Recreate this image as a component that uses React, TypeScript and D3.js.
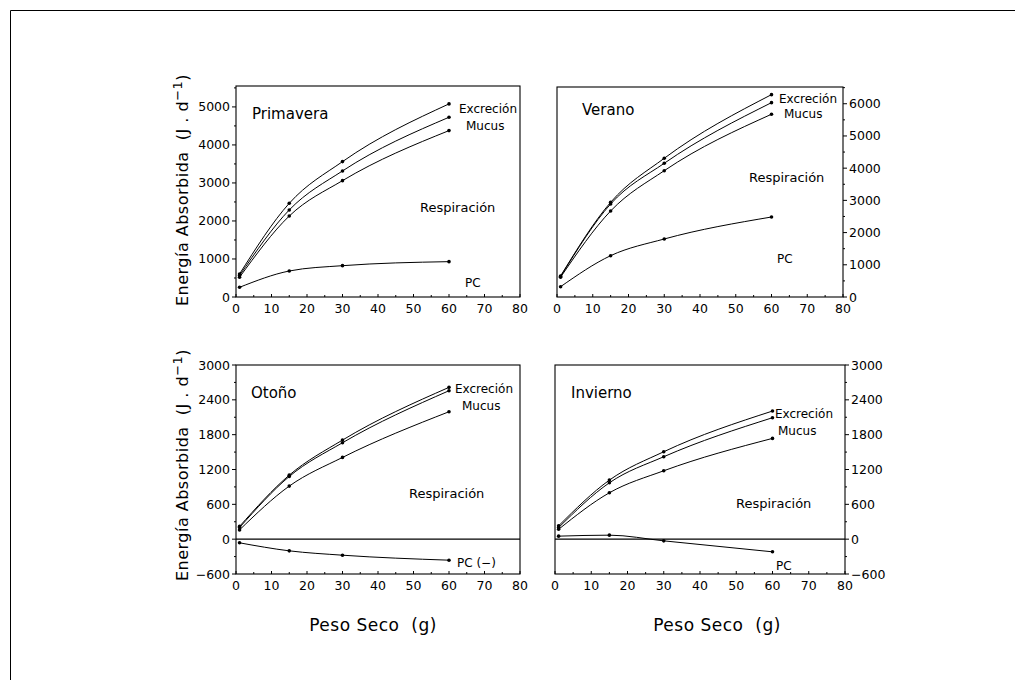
import React from "react";
import * as d3 from "d3";

const weights = [1, 15, 30, 60];
const xTicks = [0, 10, 20, 30, 40, 50, 60, 70, 80];

const primaveraExcrecion = [605, 2465, 3561, 5079];
const primaveraMucus = [565, 2290, 3316, 4728];
const primaveraRespiracion = [520, 2130, 3061, 4377];
const primaveraPC = [255, 684, 824, 930];
const primaveraTicks = [0, 1000, 2000, 3000, 4000, 5000];

const veranoExcrecion = [652, 2940, 4307, 6283];
const veranoMucus = [635, 2888, 4152, 6034];
const veranoRespiracion = [615, 2671, 3922, 5674];
const veranoPC = [320, 1283, 1801, 2484];
const veranoTicks = [0, 1000, 2000, 3000, 4000, 5000, 6000];

const otonoExcrecion = [220, 1103, 1707, 2615];
const otonoMucus = [200, 1080, 1661, 2557];
const otonoRespiracion = [160, 914, 1408, 2195];
const otonoPC = [-63, -201, -276, -362];
const otonoTicks = [-600, 0, 600, 1200, 1800, 2400, 3000];

const inviernoExcrecion = [230, 1017, 1506, 2207];
const inviernoMucus = [200, 971, 1420, 2092];
const inviernoRespiracion = [170, 799, 1178, 1736];
const inviernoPC = [52, 69, -29, -218];
const inviernoTicks = [-600, 0, 600, 1200, 1800, 2400, 3000];

const FONT = "'DejaVu Sans', 'Liberation Sans', sans-serif";

type Lbl = { text: string; x: number; y: number; size?: number };
type Panel = {
  left: number; right: number; top: number; bottom: number;
  yDomain: [number, number]; yTicks: number[]; axisRight: boolean;
  series: number[][]; labels: Lbl[]; zeroLine: boolean;
};

const panels: Panel[] = [
  {
    left: 236, right: 520, top: 86, bottom: 297,
    yDomain: [0, 5550], yTicks: primaveraTicks, axisRight: false,
    series: [primaveraExcrecion, primaveraMucus, primaveraRespiracion, primaveraPC],
    zeroLine: false,
    labels: [
      { text: "Primavera", x: 252, y: 119, size: 15 },
      { text: "Excreción", x: 459, y: 113 },
      { text: "Mucus", x: 466, y: 130 },
      { text: "Respiración", x: 420, y: 212, size: 13 },
      { text: "PC", x: 465, y: 287 },
    ],
  },
  {
    left: 557, right: 843, top: 87, bottom: 297,
    yDomain: [0, 6520], yTicks: veranoTicks, axisRight: true,
    series: [veranoExcrecion, veranoMucus, veranoRespiracion, veranoPC],
    zeroLine: false,
    labels: [
      { text: "Verano", x: 582, y: 115, size: 15 },
      { text: "Excreción", x: 779, y: 103 },
      { text: "Mucus", x: 784, y: 118 },
      { text: "Respiración", x: 749, y: 182, size: 13 },
      { text: "PC", x: 777, y: 263 },
    ],
  },
  {
    left: 236, right: 520, top: 365, bottom: 574,
    yDomain: [-600, 3000], yTicks: otonoTicks, axisRight: false,
    series: [otonoExcrecion, otonoMucus, otonoRespiracion, otonoPC],
    zeroLine: true,
    labels: [
      { text: "Otoño", x: 251, y: 398, size: 15 },
      { text: "Excreción", x: 455, y: 393 },
      { text: "Mucus", x: 462, y: 410 },
      { text: "Respiración", x: 409, y: 498, size: 13 },
      { text: "PC (−)", x: 457, y: 567 },
    ],
  },
  {
    left: 555, right: 845, top: 365, bottom: 574,
    yDomain: [-600, 3000], yTicks: inviernoTicks, axisRight: true,
    series: [inviernoExcrecion, inviernoMucus, inviernoRespiracion, inviernoPC],
    zeroLine: true,
    labels: [
      { text: "Invierno", x: 571, y: 398, size: 15 },
      { text: "Excreción", x: 775, y: 418 },
      { text: "Mucus", x: 778, y: 435 },
      { text: "Respiración", x: 736, y: 508, size: 13 },
      { text: "PC", x: 776, y: 570 },
    ],
  },
];

function PanelView({ p }: { p: Panel }) {
  const x = d3.scaleLinear().domain([0, 80]).range([p.left, p.right]);
  const y = d3.scaleLinear().domain(p.yDomain).range([p.bottom, p.top]);
  const line = d3
    .line<[number, number]>()
    .x((d) => x(d[0]))
    .y((d) => y(d[1]))
    .curve(d3.curveMonotoneX);
  const minorX = d3.range(5, 80, 10);
  const step = p.yTicks[1] - p.yTicks[0];
  const minorY = p.yTicks.map((t) => t + step / 2).filter((t) => t < p.yDomain[1]);
  const axX = p.axisRight ? p.right : p.left;
  const dir = p.axisRight ? 1 : -1;
  return (
    <g>
      <rect x={p.left} y={p.top} width={p.right - p.left} height={p.bottom - p.top}
        fill="none" stroke="#000" strokeWidth={1.1} />
      {p.zeroLine && (
        <line x1={p.left} x2={p.right} y1={y(0)} y2={y(0)} stroke="#000" strokeWidth={1.1} />
      )}
      {xTicks.map((t) => (
        <g key={"xt" + t}>
          <line x1={x(t)} x2={x(t)} y1={p.bottom} y2={p.bottom - 3} stroke="#000" />
          <text x={x(t)} y={p.bottom + 16} textAnchor="middle" fontSize={12.5} fontFamily={FONT}>
            {t}
          </text>
        </g>
      ))}
      {minorX.map((t) => (
        <line key={"mx" + t} x1={x(t)} x2={x(t)} y1={p.bottom} y2={p.bottom - 2} stroke="#000" />
      ))}
      {p.yTicks.map((t) => (
        <g key={"yt" + t}>
          <line x1={axX} x2={axX + dir * 4} y1={y(t)} y2={y(t)} stroke="#000" />
          <text
            x={axX + dir * 6}
            y={y(t) + 4.5}
            textAnchor={p.axisRight ? "start" : "end"}
            fontSize={12.5}
            fontFamily={FONT}
          >
            {t < 0 ? "−" + Math.abs(t) : t}
          </text>
        </g>
      ))}
      {minorY.map((t) => (
        <line key={"my" + t} x1={axX} x2={axX + dir * 2} y1={y(t)} y2={y(t)} stroke="#000" />
      ))}
      {p.series.map((s, i) => {
        const pts: [number, number][] = weights.map((w, j) => [w, s[j]]);
        return (
          <g key={"s" + i}>
            <path d={line(pts) || ""} fill="none" stroke="#000" strokeWidth={1} />
            {pts.map((d, j) => (
              <circle key={j} cx={x(d[0])} cy={y(d[1])} r={1.8} fill="#000" />
            ))}
          </g>
        );
      })}
      {p.labels.map((l, i) => (
        <text key={"l" + i} x={l.x} y={l.y} fontSize={l.size || 12} fontFamily={FONT}>
          {l.text}
        </text>
      ))}
    </g>
  );
}

function YTitle({ cx, cy }: { cx: number; cy: number }) {
  return (
    <text
      transform={`translate(${cx},${cy}) rotate(-90)`}
      textAnchor="middle"
      fontSize={16}
      fontFamily={FONT}
      letterSpacing={0.5}
    >
      {"Energía Absorbida\u00A0\u00A0(J . d"}
      <tspan fontSize={13} dy={-6}>−1</tspan>
      <tspan dy={6}>)</tspan>
    </text>
  );
}

export default function App() {
  return (
    <svg
      width={1015}
      height={680}
      style={{ position: "absolute", left: 0, top: 0, background: "#fff" }}
    >
      <rect x={0} y={0} width={1015} height={680} fill="#fff" />
      <line x1={10.5} x2={1015} y1={10.5} y2={10.5} stroke="#000" strokeWidth={1} />
      <line x1={10.5} x2={10.5} y1={10.5} y2={680} stroke="#000" strokeWidth={1} />
      {panels.map((p, i) => (
        <PanelView key={i} p={p} />
      ))}
      <YTitle cx={188} cy={190} />
      <YTitle cx={188} cy={465} />
      <text x={373} y={631} textAnchor="middle" fontSize={17} fontFamily={FONT} letterSpacing={0.5}>
        {"Peso Seco\u00A0\u00A0(g)"}
      </text>
      <text x={717} y={631} textAnchor="middle" fontSize={17} fontFamily={FONT} letterSpacing={0.5}>
        {"Peso Seco\u00A0\u00A0(g)"}
      </text>
    </svg>
  );
}
